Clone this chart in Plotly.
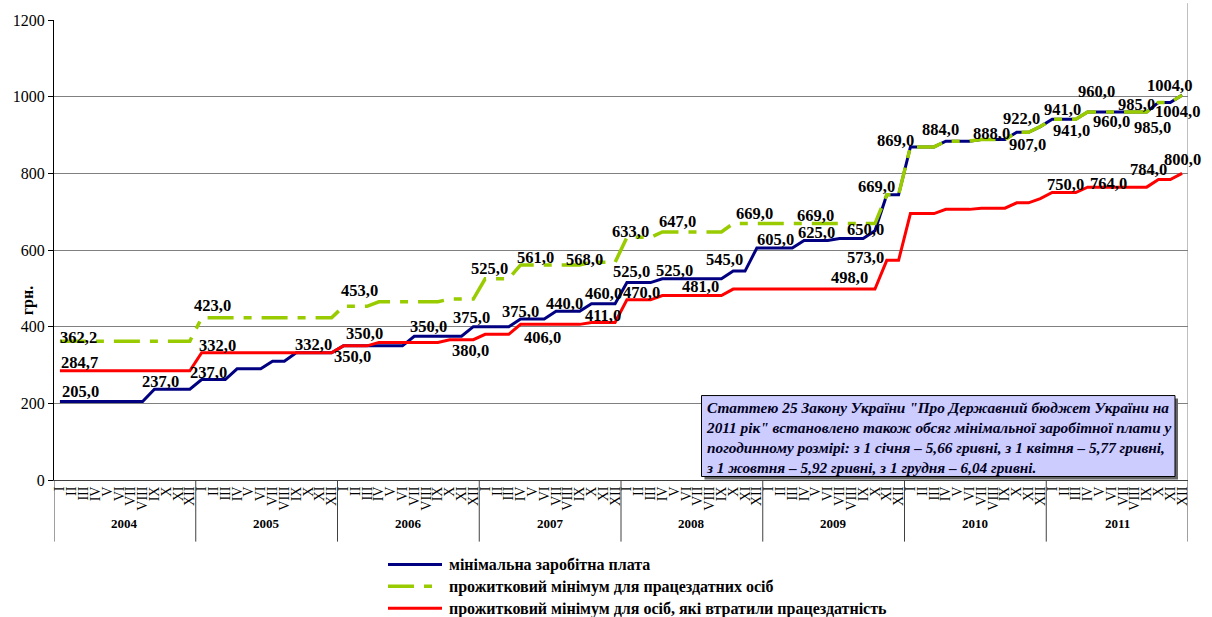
import plotly.graph_objects as go

FONT = "Liberation Serif"

# ---------------- data ----------------
years = ["2004", "2005", "2006", "2007", "2008", "2009", "2010", "2011"]
months = ["I", "II", "III", "IV", "V", "VI", "VII", "VIII", "IX", "X", "XI", "XII"]

# мінімальна заробітна плата (monthly, Jan 2004 .. Dec 2011)
min_wage = [
    205, 205, 205, 205, 205, 205, 205, 205, 237, 237, 237, 237,
    262, 262, 262, 290, 290, 290, 310, 310, 332, 332, 332, 332,
    350, 350, 350, 350, 350, 350, 375, 375, 375, 375, 375, 400,
    400, 400, 400, 420, 420, 420, 440, 440, 440, 460, 460, 460,
    515, 515, 515, 525, 525, 525, 525, 525, 525, 545, 545, 605,
    605, 605, 605, 625, 625, 625, 630, 630, 630, 650, 744, 744,
    869, 869, 869, 884, 884, 884, 888, 888, 888, 907, 907, 922,
    941, 941, 941, 960, 960, 960, 960, 960, 960, 985, 985, 1004,
]
# прожитковий мінімум для працездатних осіб
subsist_able = [
    362.2, 362.2, 362.2, 362.2, 362.2, 362.2, 362.2, 362.2, 362.2, 362.2, 362.2, 362.2,
    423, 423, 423, 423, 423, 423, 423, 423, 423, 423, 423, 423,
    453, 453, 453, 465, 465, 465, 465, 465, 465, 472, 472, 472,
    525, 525, 525, 561, 561, 561, 561, 561, 561, 568, 568, 568,
    633, 633, 633, 647, 647, 647, 647, 647, 647, 669, 669, 669,
    669, 669, 669, 669, 669, 669, 669, 669, 669, 669, 744, 744,
    869, 869, 869, 884, 884, 884, 888, 888, 888, 907, 907, 922,
    941, 941, 941, 960, 960, 960, 960, 960, 960, 985, 985, 1004,
]
# прожитковий мінімум для осіб, які втратили працездатність
subsist_disabled = [
    284.7, 284.7, 284.7, 284.7, 284.7, 284.7, 284.7, 284.7, 284.7, 284.7, 284.7, 284.7,
    332, 332, 332, 332, 332, 332, 332, 332, 332, 332, 332, 332,
    350, 350, 350, 359, 359, 359, 359, 359, 359, 366, 366, 366,
    380, 380, 380, 406, 406, 406, 406, 406, 406, 411, 411, 411,
    470, 470, 470, 481, 481, 481, 481, 481, 481, 498, 498, 498,
    498, 498, 498, 498, 498, 498, 498, 498, 498, 498, 573, 573,
    695, 695, 695, 706, 706, 706, 709, 709, 709, 723, 723, 734,
    750, 750, 750, 764, 764, 764, 764, 764, 764, 784, 784, 800,
]

series_names = [
    "мінімальна заробітна плата",
    "прожитковий мінімум для працездатних осіб",
    "прожитковий мінімум для осіб, які втратили працездатність",
]

# data labels: (month index, text) ; offsets kept separately as style
labels_wage = [(0, "205,0"), (8, "237,0"), (11, "237,0"), (20, "332,0"), (24, "350,0"),
               (29, "350,0"), (34, "375,0"), (38, "375,0"), (42, "440,0"), (45, "460,0"),
               (48, "525,0"), (51, "525,0"), (57, "545,0"), (59, "605,0"), (63, "625,0"),
               (69, "650,0"), (70, "669,0"), (72, "869,0"), (75, "884,0"), (78, "888,0"),
               (81, "907,0"), (83, "922,0"), (84, "941,0"), (86, "941,0"), (87, "960,0"),
               (90, "960,0"), (93, "985,0"), (94, "985,0"), (95, "1004,0"), (95, "1004,0")]
labels_able = [(0, "362,2"), (12, "423,0"), (24, "453,0"), (36, "525,0"), (39, "561,0"),
               (45, "568,0"), (48, "633,0"), (51, "647,0"), (57, "669,0"), (64, "669,0")]
labels_disabled = [(0, "284,7"), (12, "332,0"), (24, "350,0"), (36, "380,0"), (39, "406,0"),
                   (45, "411,0"), (48, "470,0"), (54, "481,0"), (69, "498,0"), (70, "573,0"),
                   (84, "750,0"), (87, "764,0"), (93, "784,0"), (95, "800,0")]

note_lines = [
    "Статтею 25 Закону України \"Про Державний бюджет України на",
    "2011 рік\" встановлено також обсяг мінімальної заробітної плати у",
    "погодинному розмірі: з 1 січня – 5,66 гривні, з 1 квітня – 5,77 гривні,",
    "з 1 жовтня – 5,92 гривні, з 1 грудня – 6,04 гривні.",
]

# ---------------- style ----------------
off_wage = [(21, 10), (6, 8), (19, 17), (17, 8), (9, -11), (26, 19), (10, 19), (12, 15),
            (8, 8), (12, 10), (5, 11), (12, 8), (-9, 12), (19, 9), (12, 8), (-9, 1),
            (-10, 8), (-15, 6), (-5, 12), (10, 6), (11, -12), (-19, 8), (10, 10), (-4, -11),
            (9, 21), (-12, -9), (-22, -2), (-18, -25), (-13, 10), (-5, -16)]
off_able = [(19, 4), (11, 12), (16, 16), (4, 10), (15, 7), (-7, 3), (4, 6), (15, 10),
            (21, 10), (0, 8)]
off_disabled = [(20, 8), (16, 7), (21, 12), (-15, -16), (22, -13), (12, 7), (15, 7), (3, 9),
                (-25, 12), (-21, 3), (13, 8), (21, 4), (-10, 10), (0, 14)]

BLUE = "#000080"
GREEN = "#99CC00"
RED = "#FF0000"
GREEN_DASH = "26px,10px,8px,10px"

W, H = 1212, 617
ML, MR, MT, MB = 54, 24, 17, 137
PW = W - ML - MR
PH = H - MT - MB


def px_x(px):
    return (px - ML) / PW


def px_y(py):
    return (H - MB - py) / PH


n = len(min_wage)
x = list(range(n))
ticktext = [m for _ in years for m in months]

fig = go.Figure()
for vals, color, width, dash, name in [
    (min_wage, BLUE, 3, "solid", series_names[0]),
    (subsist_able, GREEN, 3.5, GREEN_DASH, series_names[1]),
    (subsist_disabled, RED, 3, "solid", series_names[2]),
]:
    fig.add_trace(go.Scatter(x=x, y=vals, mode="lines", name=name, showlegend=False,
                             line=dict(color=color, width=width, dash=dash),
                             hoverinfo="skip"))

annotations = []
lab_font = dict(family=FONT, size=16.5, color="black")
for labs, offs, vals in [(labels_wage, off_wage, min_wage),
                         (labels_able, off_able, subsist_able),
                         (labels_disabled, off_disabled, subsist_disabled)]:
    for (i, txt), (dx, dy) in zip(labs, offs):
        annotations.append(dict(x=i, y=vals[i], xref="x", yref="y", text="<b>%s</b>" % txt,
                                showarrow=False, xshift=dx, yshift=dy, font=lab_font,
                                xanchor="center", yanchor="middle"))

# year labels
for k, yr in enumerate(years):
    annotations.append(dict(x=k * 12 + 5.5, y=px_y(533), xref="x", yref="paper",
                            text="<b>%s</b>" % yr, showarrow=False,
                            font=dict(family=FONT, size=13, color="black")))

# y axis title
annotations.append(dict(x=px_x(17), y=px_y(300), xref="paper", yref="paper",
                        text="<b>грн.</b>", textangle=-90, showarrow=False,
                        font=dict(family=FONT, size=16, color="black")))

# note text
annotations.append(dict(x=px_x(704), y=px_y(396), xref="paper", yref="paper",
                        xanchor="left", yanchor="top", align="left",
                        text="<br>".join("<b><i>%s</i></b>" % t for t in note_lines),
                        showarrow=False,
                        font=dict(family=FONT, size=15.3, color="#000020")))

shapes = []
# year separators
for k in range(len(years) + 1):
    shapes.append(dict(type="line", xref="x", yref="paper", x0=k * 12 - 0.5, x1=k * 12 - 0.5,
                       y0=0, y1=px_y(542), line=dict(color="#404040", width=1)))
# right border
shapes.append(dict(type="line", xref="x", yref="paper", x0=n - 0.5, x1=n - 0.5,
                   y0=0, y1=px_y(0), line=dict(color="#808080", width=1)))
# note box with shadow
shapes.append(dict(type="rect", xref="paper", yref="paper", x0=px_x(704.5), x1=px_x(1178),
                   y0=px_y(479.5), y1=px_y(398), fillcolor="#666666",
                   line=dict(width=0), layer="above"))
shapes.append(dict(type="rect", xref="paper", yref="paper", x0=px_x(701.5), x1=px_x(1175),
                   y0=px_y(476.5), y1=px_y(395), fillcolor="#CCCCFF",
                   line=dict(color="#000000", width=1), layer="above"))

# manual legend
leg_rows = [(565, BLUE, 3, "solid"), (587, GREEN, 3.5, GREEN_DASH), (609, RED, 3, "solid")]
for (py, color, width, dash), name in zip(leg_rows, series_names):
    shapes.append(dict(type="line", xref="paper", yref="paper", x0=px_x(388), x1=px_x(442),
                       y0=px_y(py), y1=px_y(py), line=dict(color=color, width=width, dash=dash)))
    annotations.append(dict(x=px_x(447), y=px_y(py + 1), xref="paper", yref="paper",
                            xanchor="left", yanchor="middle", text="<b>%s</b>" % name,
                            showarrow=False, font=dict(family=FONT, size=16, color="black")))

fig.update_layout(
    width=W, height=H,
    margin=dict(l=ML, r=MR, t=MT, b=MB, pad=0),
    paper_bgcolor="white", plot_bgcolor="white",
    font=dict(family=FONT, color="black"),
    xaxis=dict(range=[-0.5, n - 0.5], tickvals=x, ticktext=ticktext, tickangle=-90,
               tickfont=dict(family=FONT, size=14, color="black"), showgrid=False,
               zeroline=False, showline=True, linecolor="#404040", linewidth=1, ticks=""),
    yaxis=dict(range=[0, 1200], dtick=200, tick0=0, showgrid=True, gridcolor="#808080",
               gridwidth=1, zeroline=False, showline=True, linecolor="black", linewidth=1,
               ticks="outside", ticklen=5, tickcolor="black",
               tickfont=dict(family=FONT, size=16, color="black")),
    annotations=annotations,
    shapes=shapes,
)

fig.write_html("out.html", config={"displayModeBar": False},
               post_script="document.body.style.margin='0';document.body.style.overflow='hidden';")
